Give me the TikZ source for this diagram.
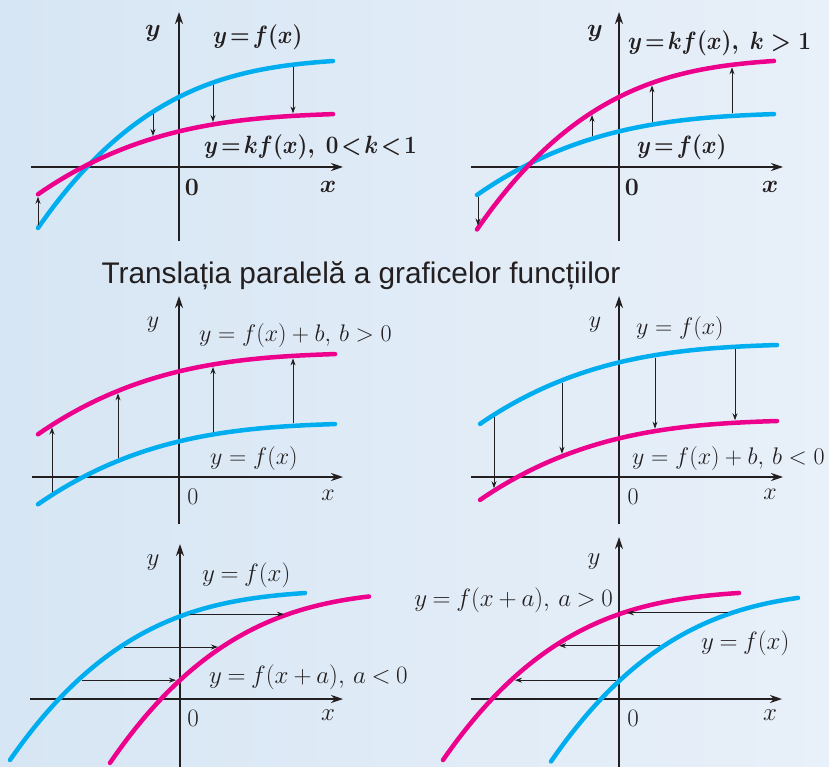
\documentclass[tikz,border=0pt]{standalone}
\usepackage{fix-cm}
\usepackage{fontspec}
\newfontfamily\titlefont{Liberation Sans}
\usetikzlibrary{arrows.meta}
\definecolor{ink}{HTML}{231F20}
\definecolor{fblue}{HTML}{00AEEF}
\definecolor{kmag}{HTML}{EC008C}
\definecolor{bgleft}{HTML}{D7E6F4}
\definecolor{bgright}{HTML}{E8F0F9}
\newcommand\topmath{\thickmuskip=2mu\relax\medmuskip=2mu\relax}
\newcommand\lowmath{\thickmuskip=4mu\relax\medmuskip=3.5mu\relax}
\newcommand\squeeze[1]{\scalebox{0.9}[1]{#1}}

\begin{document}
\begin{tikzpicture}[
  x=1pt, y=1pt,
  declare function={g(\t)=70+\t*(50.17+\t*(-24.14+4.374*\t)); s(\t)=0.48*g(\t)+2;},
  axline/.style={draw=ink, line width=1.6pt, -{Stealth[length=12pt,width=8pt]}},
  plotline/.style={line width=4.5pt, line cap=round},
  bcurve/.style={plotline, draw=fblue},
  mcurve/.style={plotline, draw=kmag},
  arr/.style={draw=ink, line width=0.9pt, -{Stealth[length=7pt,width=5pt]},
    shorten <=2.5pt, shorten >=2.5pt},
  harr/.style={arr, shorten <=4pt, shorten >=4pt},
  tlbl/.style={text=ink, inner sep=0pt, font=\fontsize{25}{30}\selectfont\boldmath\topmath},
  mlbl/.style={text=ink, inner sep=0pt, font=\fontsize{24}{28}\selectfont},
  llbl/.style={text=ink, inner sep=0pt, font=\fontsize{25}{30}\selectfont\lowmath}
]
\shade[left color=bgleft, right color=bgright] (0,0) rectangle (829,-767);
\useasboundingbox (0,0) rectangle (829,-767);

\node[anchor=base, text=ink, inner sep=0pt, font=\titlefont\fontsize{29.8}{34}\selectfont] (title)
  at (361,-283) {Translația paralelă a graficelor funcțiilor};

\begin{scope}[shift={(179,-167)}]
  \draw[axline] (-148,0) -- (164,0);
  \draw[axline] (0,-74) -- (0,155);
  \draw[bcurve] plot[domain=-141:154, samples=60, smooth] (\x,{g(\x/100)});
  \draw[mcurve] plot[domain=-141:154, samples=60, smooth] (\x,{s(\x/100)});
  \foreach \p in {-141,-26,34,114}
    \draw[arr] (\p,{g(\p/100)}) -- (\p,{s(\p/100)});
  \node[tlbl] (ya) at (-26,134) {$y$};
  \node[tlbl, anchor=west] (fa) at (34,130) {\squeeze{$y=f(x)$}};
  \node[tlbl, anchor=west] (ka) at (25,20) {\squeeze{$y=kf(x),\ 0<k<1$}};
  \node[tlbl] (oa) at (13,-20) {$0$};
  \node[tlbl] (xa) at (149,-20) {$x$};
\end{scope}

\begin{scope}[shift={(619,-167)}]
  \draw[axline] (-148,0) -- (164,0);
  \draw[axline] (0,-74) -- (0,155);
  \draw[bcurve] plot[domain=-142:155, samples=60, smooth] (\x,{s(\x/100)});
  \draw[mcurve] plot[domain=-142:155, samples=60, smooth] (\x,{g(\x/100)});
  \foreach \p in {-141,-27,33,113}
    \draw[arr] (\p,{s(\p/100)}) -- (\p,{g(\p/100)});
  \node[tlbl] (yb) at (-24,134) {$y$};
  \node[tlbl, anchor=west] (kb) at (9,124) {\squeeze{$y=kf(x),\ k\,>\,1$}};
  \node[tlbl, anchor=west] (fb) at (18,20) {\squeeze{$y=f(x)$}};
  \node[tlbl] (ob) at (13,-20) {$0$};
  \node[tlbl] (xb) at (151,-20) {$x$};
\end{scope}

\begin{scope}[shift={(179,-477)}]
  \draw[axline] (-147,0) -- (164,0);
  \draw[axline] (0,-47) -- (0,181);
  \draw[bcurve] plot[domain=-141:156, samples=60, smooth] (\x,{s(\x/100)});
  \draw[mcurve] plot[domain=-141:156, samples=60, smooth] (\x,{s(\x/100)+70});
  \foreach \p in {-127,-61,34,114}
    \draw[arr] (\p,{s(\p/100)}) -- (\p,{s(\p/100)+70});
  \node[mlbl] (yc) at (-26,152) {$y$};
  \node[mlbl, anchor=west] (bc) at (20,142) {$y=f(x)+b,\,b>0$};
  \node[mlbl, anchor=west] (fc) at (31,19) {$y=f(x)$};
  \node[mlbl] (oc) at (14,-20) {$0$};
  \node[mlbl] (xc) at (149,-18) {$x$};
\end{scope}

\begin{scope}[shift={(619,-477)}]
  \draw[axline] (-148,0) -- (164,0);
  \draw[axline] (0,-47) -- (0,181);
  \draw[bcurve] plot[domain=-139:158, samples=60, smooth] (\x,{s(\x/100)+79});
  \draw[mcurve] plot[domain=-139:158, samples=60, smooth] (\x,{s(\x/100)+3});
  \foreach \p in {-125,-57,36,116}
    \draw[arr] (\p,{s(\p/100)+79}) -- (\p,{s(\p/100)+3});
  \node[mlbl] (yd) at (-24,152) {$y$};
  \node[mlbl, anchor=west] (fd) at (17,149) {$y=f(x)$};
  \node[mlbl, anchor=west] (bd) at (13,19) {$y=f(x)+b,\,b<0$};
  \node[mlbl] (od) at (14,-20) {$0$};
  \node[mlbl] (xd) at (151,-17) {$x$};
\end{scope}

\begin{scope}[shift={(180,-699)}]
  \draw[axline] (-150,0) -- (163,0);
  \draw[axline] (0,-70) -- (0,155);
  \draw[bcurve] plot[domain=-170:125, samples=60, smooth] (\x,{g((\x+29)/100)});
  \draw[mcurve] plot[domain=-70:189, samples=60, smooth] (\x,{g((\x-73)/100)});
  \foreach \p in {6,-60,-102}
    \draw[harr] (\p,{g((\p+29)/100)}) -- ({\p+102},{g((\p+29)/100)});
  \node[llbl] (ye) at (-27,136) {$y$};
  \node[llbl, anchor=west] (fe) at (22,124) {$y=f(x)$};
  \node[llbl, anchor=west] (ae) at (29,22) {$y=f(x+a),\,a<0$};
  \node[llbl] (oe) at (13,-19) {$0$};
  \node[llbl] (xe) at (148,-16) {$x$};
\end{scope}

\begin{scope}[shift={(619,-699)}]
  \draw[axline] (-148,0) -- (163,0);
  \draw[axline] (0,-70) -- (0,162);
  \draw[bcurve] plot[domain=-68:179, samples=60, smooth] (\x,{g((\x-74)/100)});
  \draw[mcurve] plot[domain=-176:120, samples=60, smooth] (\x,{g((\x+35)/100)});
  \foreach \p in {113,45,1}
    \draw[harr] (\p,{g((\p-74)/100)}) -- ({\p-109},{g((\p-74)/100)});
  \node[llbl] (yf) at (-25,137) {$y$};
  \node[llbl, anchor=east] (af) at (-6,99) {$y=f(x+a),\,a>0$};
  \node[llbl, anchor=west] (ff) at (82,56) {$y=f(x)$};
  \node[llbl] (of) at (14,-19) {$0$};
  \node[llbl] (xf) at (151,-16) {$x$};
\end{scope}
\end{tikzpicture}
\end{document}
